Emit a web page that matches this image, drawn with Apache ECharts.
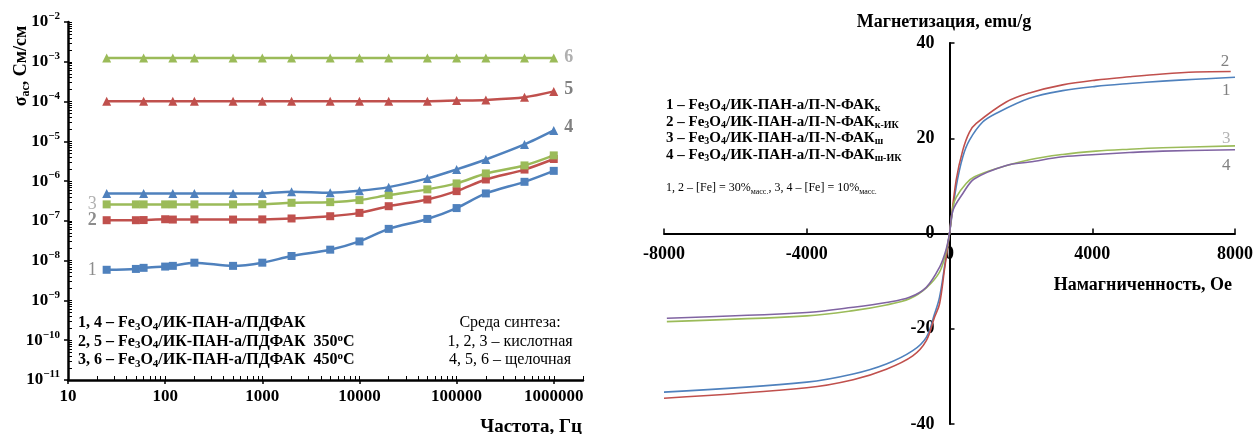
<!DOCTYPE html>
<html><head><meta charset="utf-8">
<script src="https://cdn.jsdelivr.net/npm/echarts@6/dist/echarts.min.js"></script>
<style>html,body{margin:0;padding:0;background:#fff}#c{width:1253px;height:434px}</style>
</head><body><div id="c"></div>
<script>
// ---------- Left chart: conductivity vs frequency ----------
const freqSq = [25,50,60,100,120,200,500,1000,2000,5000,10000,20000,50000,100000,200000,500000,1000000];
const freqTr = [25,60,120,200,500,1000,2000,5000,10000,20000,50000,100000,200000,500000,1000000];
const sigma1 = [5.9e-9,6.2e-9,6.6e-9,7.1e-9,7.4e-9,8.9e-9,7.4e-9,8.9e-9,1.31e-8,1.89e-8,3.05e-8,6.3e-8,1.12e-7,2.1e-7,4.9e-7,9.6e-7,1.81e-6];
const sigma2 = [1.04e-7,1.04e-7,1.05e-7,1.1e-7,1.08e-7,1.09e-7,1.08e-7,1.09e-7,1.15e-7,1.31e-7,1.59e-7,2.34e-7,3.45e-7,5.6e-7,1.1e-6,1.95e-6,3.6e-6];
const sigma3 = [2.6e-7,2.6e-7,2.6e-7,2.6e-7,2.6e-7,2.6e-7,2.6e-7,2.62e-7,2.85e-7,2.96e-7,3.33e-7,4.45e-7,6.2e-7,8.75e-7,1.56e-6,2.48e-6,4.43e-6];
const sigma4 = [4.9e-7,4.9e-7,4.9e-7,4.9e-7,4.9e-7,4.9e-7,5.4e-7,5.08e-7,5.7e-7,7.06e-7,1.17e-6,1.97e-6,3.5e-6,8.35e-6,1.88e-5];
const sigma5 = [1.02e-4,1.02e-4,1.02e-4,1.02e-4,1.02e-4,1.02e-4,1.02e-4,1.02e-4,1.02e-4,1.02e-4,1.02e-4,1.06e-4,1.1e-4,1.28e-4,1.8e-4];
const sigma6 = [1.25e-3,1.25e-3,1.25e-3,1.25e-3,1.25e-3,1.25e-3,1.25e-3,1.25e-3,1.25e-3,1.25e-3,1.25e-3,1.25e-3,1.25e-3,1.25e-3,1.25e-3];
const freqTicks = [10,100,1000,10000,100000,1000000];
const sigmaTicks = [1e-11,1e-10,1e-9,1e-8,1e-7,1e-6,1e-5,1e-4,1e-3,1e-2];

// ---------- Right chart: magnetization curves ----------
const field1 = [-8000,-4000,-2700,-1770,-1030,-650,-420,-280,-140,0,187,373,560,930,1300,2240,3170,4100,5040,5970,6900,8000];
const magn1  = [-33.3,-31.2,-29.5,-27.4,-24.6,-21.8,-16.9,-13.4,-7,0,9.8,16.1,19.6,23.4,25.2,28.4,30.0,30.9,31.5,32.0,32.4,32.8];
const field2 = [-8000,-4000,-2700,-1770,-1030,-650,-420,-280,-140,0,187,373,560,750,1590,2240,3170,4100,5040,5970,6900,7880];
const magn2  = [-34.6,-32.4,-30.7,-28.5,-25.7,-22.5,-17.6,-14.8,-7.5,0,11.2,17.5,21.3,23.1,27.6,29.5,31.2,32.2,32.9,33.5,33.9,34.0];
const field3 = [-7920,-4000,-2700,-1770,-1120,-650,-280,-100,0,93,187,466,700,1300,2240,3170,4100,5040,5970,8000];
const magn3  = [-18.5,-17.3,-16.2,-15.0,-13.7,-11.4,-8.1,-4,0,5.5,7.6,10.5,11.9,13.6,15.5,16.6,17.3,17.7,18.0,18.4];
const field4 = [-7920,-4000,-2700,-1770,-1120,-650,-280,-100,0,93,373,700,1590,2240,3170,4100,5040,5970,8000];
const magn4  = [-17.8,-16.6,-15.5,-14.5,-13.4,-11.3,-7.1,-3.5,0,4.8,8.4,11.5,14.3,15.0,16.1,16.6,17.0,17.3,17.6];
const fieldTicksInterval = 4000;
const magnTicksInterval = 20;

const F = '"Liberation Serif","Times New Roman",serif';
const C = {blue:'#4F81BD', red:'#C0504D', green:'#9BBB59', purple:'#8064A2'};

// right grid geometry (axes cross at zero, mid-grid, because ranges are symmetric)
const G2 = {left: 664, top: 43, width: 571, height: 381};

const freqMinor = [];
for (let d = 10; d <= 1e6; d *= 10) for (let k = 1; k < 10; k++) { const v = d * k; if (v <= 2e6) freqMinor.push(v); }
const sigmaMinor = [];
for (let e = -11; e <= -3; e++) for (let k = 1; k < 10; k++) sigmaMinor.push(k * Math.pow(10, e));
sigmaMinor.push(1e-2);

function pairs(xs, ys, idx, label) {
  return xs.map((x, i) => i === idx ? {value: [x, ys[i]], label: label} : [x, ys[i]]);
}
function lab(t, pos, color, bold, extra) {
  return Object.assign({show: true, formatter: t, position: pos, distance: 6, color: color,
    fontFamily: F, fontSize: 18, fontWeight: bold ? 'bold' : 'normal'}, extra || {});
}
function cond(name, xs, ys, color, symbol, size, idx, label) {
  return {type: 'line', name: name, xAxisIndex: 0, yAxisIndex: 0, data: pairs(xs, ys, idx, label),
    smooth: 0.3, symbol: symbol, symbolSize: size, showSymbol: true,
    lineStyle: {color: color, width: 2.5}, itemStyle: {color: color}, z: 3};
}
function magSeries(name, xs, ys, color, endLab) {
  return {type: 'line', name: name, xAxisIndex: 2, yAxisIndex: 2, data: pairs(xs, ys, -1),
    smooth: 0.35, symbol: 'none', showSymbol: false,
    lineStyle: {color: color, width: 1.6}, endLabel: endLab, z: 3};
}

const axisLbl = {fontFamily: F, fontSize: 17, fontWeight: 'bold', color: '#000'};
const rightLbl = {fontFamily: F, fontSize: 18, fontWeight: 'bold', color: '#000'};

const option = {
  animation: false,
  backgroundColor: '#fff',
  grid: [
    {left: 68, top: 22, width: 515, height: 358, outerBoundsMode: 'none', containLabel: false},
    Object.assign({outerBoundsMode: 'none', containLabel: false}, G2)
  ],
  xAxis: [
    {type: 'log', gridIndex: 0, logBase: 10, min: 10, max: 2e6, position: 'bottom',
     axisLine: {show: true, lineStyle: {color: '#000', width: 2.5}},
     axisTick: {show: true, inside: false, length: 4, customValues: freqTicks, lineStyle: {color: '#000', width: 1.5}},
     axisLabel: Object.assign({customValues: freqTicks, margin: 8, formatter: v => String(Math.round(v))}, axisLbl),
     splitLine: {show: false}},
    {type: 'log', gridIndex: 0, logBase: 10, min: 10, max: 2e6, position: 'bottom',
     axisLine: {show: false},
     axisTick: {show: true, inside: true, length: 4, customValues: freqMinor, lineStyle: {color: '#000', width: 1}},
     axisLabel: {show: false}, splitLine: {show: false}},
    {type: 'value', gridIndex: 1, min: -8000, max: 8000, interval: fieldTicksInterval, position: 'bottom',
     offset: -G2.height / 2,
     axisLine: {show: true, onZero: false, lineStyle: {color: '#000', width: 2}},
     axisTick: {show: true, inside: true, length: 5, lineStyle: {color: '#000', width: 1.5}},
     axisLabel: Object.assign({margin: 12, formatter: v => String(v)}, rightLbl),
     splitLine: {show: false}}
  ],
  yAxis: [
    {type: 'log', gridIndex: 0, logBase: 10, min: 1e-11, max: 1e-2, position: 'left',
     axisLine: {show: true, lineStyle: {color: '#000', width: 2.5}},
     axisTick: {show: true, inside: false, length: 4, customValues: sigmaTicks, lineStyle: {color: '#000', width: 1.5}},
     axisLabel: {customValues: sigmaTicks, margin: 8,
       formatter: v => '{b|10}{s|−' + Math.abs(Math.round(Math.log10(v))) + '}',
       rich: {b: {fontFamily: F, fontSize: 17, fontWeight: 'bold', color: '#000', lineHeight: 22},
              s: {fontFamily: F, fontSize: 11, fontWeight: 'bold', color: '#000', lineHeight: 11, verticalAlign: 'top'}}},
     splitLine: {show: false}},
    {type: 'log', gridIndex: 0, logBase: 10, min: 1e-11, max: 1e-2, position: 'left',
     axisLine: {show: false},
     axisTick: {show: true, inside: true, length: 4, customValues: sigmaMinor, lineStyle: {color: '#000', width: 1}},
     axisLabel: {show: false}, splitLine: {show: false}},
    {type: 'value', gridIndex: 1, min: -40, max: 40, interval: magnTicksInterval, position: 'left',
     offset: -G2.width / 2,
     axisLine: {show: true, onZero: false, lineStyle: {color: '#000', width: 2}},
     axisTick: {show: true, inside: true, length: 5, lineStyle: {color: '#000', width: 1.5}},
     axisLabel: Object.assign({margin: 15, formatter: v => String(v)}, rightLbl),
     splitLine: {show: false}}
  ],
  series: [
    cond('1', freqSq, sigma1, C.blue, 'rect', 8, 0, lab('1', 'left', '#8c8c8c', false)),
    cond('2', freqSq, sigma2, C.red, 'rect', 8, 0, lab('2', 'left', '#8c8c8c', true)),
    cond('3', freqSq, sigma3, C.green, 'rect', 8, 0, lab('3', 'left', '#b0b0b0', false)),
    cond('4', freqTr, sigma4, C.blue, 'triangle', 9, freqTr.length - 1, lab('4', 'right', '#808080', true, {offset: [0, -3]})),
    cond('5', freqTr, sigma5, C.red, 'triangle', 9, freqTr.length - 1, lab('5', 'right', '#808080', true, {offset: [0, -2]})),
    cond('6', freqTr, sigma6, C.green, 'triangle', 9, freqTr.length - 1, lab('6', 'right', '#b0b0b0', true, {offset: [0, -1]})),
    magSeries('m1', field1, magn1, C.blue, {show: true, formatter: '1', color: '#808080', fontFamily: F, fontSize: 17, offset: [-21, 13]}),
    magSeries('m2', field2, magn2, C.red, {show: true, formatter: '2', color: '#808080', fontFamily: F, fontSize: 17, offset: [-18, -10]}),
    magSeries('m3', field3, magn3, C.green, {show: true, formatter: '3', color: '#b3b3b3', fontFamily: F, fontSize: 17, offset: [-21, -7]}),
    magSeries('m4', field4, magn4, C.purple, {show: true, formatter: '4', color: '#808080', fontFamily: F, fontSize: 17, offset: [-21, 16]})
  ],
  graphic: [
    {type: 'text', x: 21, y: 66, rotation: Math.PI / 2,
     style: {text: '{s|σ}{u|ac}{s|, См/см}', align: 'center', verticalAlign: 'middle',
       rich: {s: {fontFamily: F, fontSize: 18, fontWeight: 'bold', fill: '#000', lineHeight: 22},
              u: {fontFamily: F, fontSize: 12, fontWeight: 'bold', fill: '#000', lineHeight: 12, verticalAlign: 'bottom'}}}},
    {type: 'text', x: 582, y: 427,
     style: {text: 'Частота, Гц', align: 'right', verticalAlign: 'middle', fontFamily: F, fontSize: 19, fontWeight: 'bold', fill: '#000'}},
    {type: 'text', x: 78, y: 314,
     style: {text: '{b|1, 4 – Fe}{d|3}{b|O}{d|4}{b|/ИК-ПАН-а/ПДФАК}\n{b|2, 5 – Fe}{d|3}{b|O}{d|4}{b|/ИК-ПАН-а/ПДФАК  350}{p|o}{b|C}\n{b|3, 6 – Fe}{d|3}{b|O}{d|4}{b|/ИК-ПАН-а/ПДФАК  450}{p|o}{b|C}',
       align: 'left', verticalAlign: 'top',
       rich: {b: {fontFamily: F, fontSize: 16, fontWeight: 'bold', fill: '#000', lineHeight: 18.5},
              d: {fontFamily: F, fontSize: 11, fontWeight: 'bold', fill: '#000', lineHeight: 9, verticalAlign: 'bottom'},
              p: {fontFamily: F, fontSize: 11, fontWeight: 'bold', fill: '#000', lineHeight: 11, verticalAlign: 'top'}}}},
    {type: 'text', x: 510, y: 314,
     style: {text: 'Среда синтеза:\n1, 2, 3 – кислотная\n4, 5, 6 – щелочная', align: 'center', verticalAlign: 'top',
       fontFamily: F, fontSize: 16, fill: '#000', lineHeight: 18.5}},
    {type: 'text', x: 944, y: 22,
     style: {text: 'Магнетизация, emu/g', align: 'center', verticalAlign: 'middle', fontFamily: F, fontSize: 18, fontWeight: 'bold', fill: '#000'}},
    {type: 'text', x: 1232, y: 285,
     style: {text: 'Намагниченность, Oe', align: 'right', verticalAlign: 'middle', fontFamily: F, fontSize: 18, fontWeight: 'bold', fill: '#000'}},
    {type: 'text', x: 666, y: 97,
     style: {text: '{b|1 – Fe}{d|3}{b|O}{d|4}{b|/ИК-ПАН-а/П-N-ФАК}{d|к}\n{b|2 – Fe}{d|3}{b|O}{d|4}{b|/ИК-ПАН-а/П-N-ФАК}{d|к-ИК}\n{b|3 – Fe}{d|3}{b|O}{d|4}{b|/ИК-ПАН-а/П-N-ФАК}{d|ш}\n{b|4 – Fe}{d|3}{b|O}{d|4}{b|/ИК-ПАН-а/П-N-ФАК}{d|ш-ИК}',
       align: 'left', verticalAlign: 'top',
       rich: {b: {fontFamily: F, fontSize: 15, fontWeight: 'bold', fill: '#000', lineHeight: 16.5},
              d: {fontFamily: F, fontSize: 10, fontWeight: 'bold', fill: '#000', lineHeight: 8, verticalAlign: 'bottom'}}}},
    {type: 'text', x: 666, y: 188,
     style: {text: '{n|1, 2 – [Fe] = 30%}{d|масс.}{n|, 3, 4 – [Fe] = 10%}{d|масс.}', align: 'left', verticalAlign: 'middle',
       rich: {n: {fontFamily: F, fontSize: 12, fill: '#000', lineHeight: 16},
              d: {fontFamily: F, fontSize: 8, fill: '#000', lineHeight: 7, verticalAlign: 'bottom'}}}}
  ]
};
const chart = echarts.init(document.getElementById('c'), null, {renderer: 'canvas'});
chart.setOption(option);
</script></body></html>
